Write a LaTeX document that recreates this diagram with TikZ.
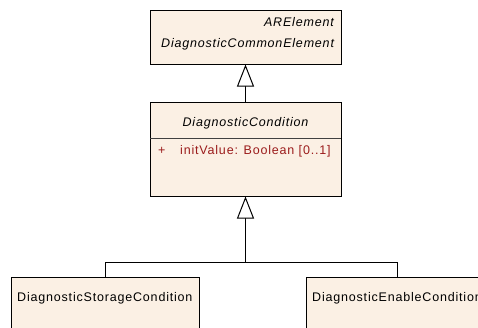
\documentclass[tikz,border=0pt]{standalone}
\usepackage{fontspec}
\setmainfont{Liberation Sans}
\newfontfamily\umlfont[LetterSpace=6.5]{Liberation Sans}
\usetikzlibrary{arrows.meta}
\definecolor{umlfill}{RGB}{251,240,228}
\definecolor{umlred}{RGB}{155,28,28}
\begin{document}
\begin{tikzpicture}[x=1pt,y=-1pt,
 classbox/.style={draw=black,fill=umlfill,line width=1pt,inner sep=0pt},
 lbl/.style={inner sep=0pt,font=\umlfont\fontsize{12.5}{14}\selectfont},
 ilbl/.style={inner sep=0pt,font=\umlfont\itshape\fontsize{12.5}{14}\selectfont},
 attr/.style={lbl,text=umlred},
 conn/.style={line width=1pt},
 gen/.style={conn,-{Triangle[length=22pt,width=17pt,fill=white]}}]
\useasboundingbox (0,0) rectangle (478,327);
\clip (0,0) rectangle (478,327);
\node[classbox,minimum width=191pt,minimum height=54pt] (top) at (245.5,37) {};
\node[classbox,minimum width=191pt,minimum height=94pt] (mid) at (245.5,149) {};
\coordinate (sepL) at (150,138);
\coordinate (sepR) at (341,138);
\draw[black!75,line width=1pt] (sepL) -- (sepR);
\node[classbox,minimum width=188pt,minimum height=80pt] (left) at (105,317) {};
\node[classbox,minimum width=182pt,minimum height=80pt] (right) at (397,317) {};
\node[ilbl,anchor=base east] (t1) at (334,26.5) {ARElement};
\node[ilbl,anchor=base west] (t2) at (161,47.5) {DiagnosticCommonElement};
\node[ilbl,anchor=base] (t3) at (245.5,126) {DiagnosticCondition};
\node[attr,anchor=base west] (t4) at (158,154.5) {+};
\node[attr,anchor=base west] (t5) at (180,154.5) {initValue: Boolean [0..1]};
\node[lbl,anchor=base west] (t6) at (17,301.5) {DiagnosticStorageCondition};
\node[lbl,anchor=base west] (t7) at (312,301.5) {DiagnosticEnableCondition};
\draw[gen] (mid.north) -- (top.south);
\coordinate (j) at (245.5,262);
\draw[conn] (left.north) |- (j);
\draw[conn] (right.north) |- (j);
\draw[gen] (j) -- (mid.south);
\end{tikzpicture}
\end{document}
